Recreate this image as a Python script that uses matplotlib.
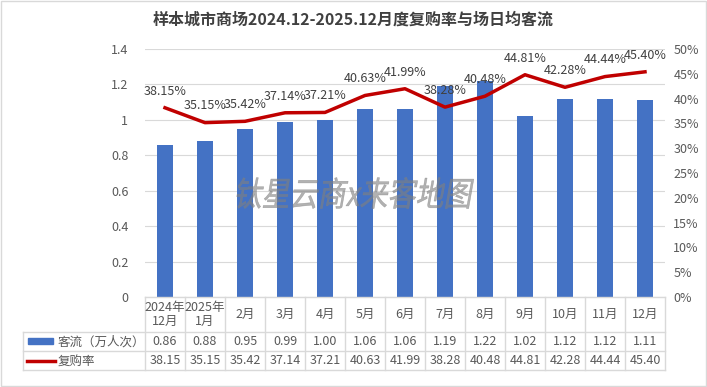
import numpy as np
import matplotlib.pyplot as plt
from matplotlib.lines import Line2D
from matplotlib.patches import Rectangle, PathPatch
from matplotlib.textpath import TextPath
from matplotlib.font_manager import FontProperties
from matplotlib.transforms import Affine2D

plt.rcParams['font.family'] = ['Noto Sans CJK SC', 'DejaVu Sans']

months = ['2024年\n12月', '2025年\n1月', '2月', '3月', '4月', '5月', '6月',
          '7月', '8月', '9月', '10月', '11月', '12月']
flow = [0.86, 0.88, 0.95, 0.99, 1.00, 1.06, 1.06, 1.19, 1.22, 1.02, 1.12, 1.12, 1.11]
rate = [38.15, 35.15, 35.42, 37.14, 37.21, 40.63, 41.99, 38.28, 40.48, 44.81, 42.28, 44.44, 45.40]

bar_c = '#4472C4'
line_c = '#C00000'
txt_c = '#595959'
grid_c = '#D9D9D9'

W, H = 707, 387
fig = plt.figure(figsize=(W / 100, H / 100), dpi=100)
ax = fig.add_axes([145 / W, 1 - 297 / H, 520 / W, 248 / H])
x = np.arange(len(months))

ax.bar(x, flow, width=0.4, color=bar_c, zorder=2)
ax.set_xlim(-0.5, len(months) - 0.5)
ax.set_ylim(0, 1.4)
ax.set_yticks(np.arange(0, 1.41, 0.2))
ax.set_yticklabels(['0', '0.2', '0.4', '0.6', '0.8', '1', '1.2', '1.4'])
ax.yaxis.grid(True, color=grid_c, lw=0.8, zorder=0)
ax.set_xticks([])
for s in ax.spines.values():
    s.set_visible(False)
ax.tick_params(axis='y', length=0, labelsize=9, labelcolor=txt_c, pad=12)

ax2 = ax.twinx()
ax2.plot(x, rate, color=line_c, lw=2.5, zorder=3)
ax2.set_ylim(0, 50)
ax2.set_yticks(np.arange(0, 51, 5))
ax2.set_yticklabels([f'{v}%' for v in range(0, 51, 5)])
ax2.tick_params(axis='y', length=0, labelsize=9, labelcolor=txt_c, pad=6)
for s in ax2.spines.values():
    s.set_visible(False)
for xi, r in zip(x, rate):
    ax2.annotate(f'{r:.2f}%', (xi, r), xytext=(0, 12), textcoords='offset points',
                 ha='center', va='center', fontsize=9, color='#404040')

fig.text(0.5, 1 - 20 / H, '样本城市商场2024.12-2025.12月度复购率与场日均客流',
         ha='center', va='center', fontsize=11.5, fontweight='bold', color='#404040')

# watermark, slanted
tp = TextPath((0, 0), '钛星云商x来客地图', size=28,
              prop=FontProperties(family='Noto Sans CJK SC', weight='medium'))
ext = tp.get_extents()
wm = Affine2D().translate(-(ext.x0 + ext.x1) / 2, -(ext.y0 + ext.y1) / 2) \
    .scale(1, 1.2).skew_deg(10, 0).translate(354, H - 193)
fig.patches.append(PathPatch(tp, transform=wm, facecolor='#808080', edgecolor='#808080',
                             lw=0.4, alpha=0.6, zorder=10))

# data table
tb = ax.get_xaxis_transform()
rows_y = [0, -35 / 248, -54 / 248, -73 / 248]
left_x = (23 - 145) / 520 * len(months) - 0.5
for yy in rows_y[1:]:
    ax.add_line(Line2D([left_x, len(months) - 0.5], [yy, yy], transform=tb,
                       color=grid_c, lw=1, clip_on=False))
ax.add_line(Line2D([-0.5, len(months) - 0.5], [0, 0], transform=tb,
                   color=grid_c, lw=1, clip_on=False))
for xi in np.arange(-0.5, len(months), 1):
    ax.add_line(Line2D([xi, xi], [rows_y[0], rows_y[-1]], transform=tb,
                       color=grid_c, lw=1, clip_on=False))
ax.add_line(Line2D([left_x, left_x], [rows_y[1], rows_y[-1]], transform=tb,
                   color=grid_c, lw=1, clip_on=False))

for xi, m, f, r in zip(x, months, flow, rate):
    ax.text(xi, (rows_y[0] + rows_y[1]) / 2, m, transform=tb, ha='center', va='center',
            fontsize=9, color=txt_c, linespacing=1.05)
    ax.text(xi, (rows_y[1] + rows_y[2]) / 2, f'{f:.2f}', transform=tb, ha='center',
            va='center', fontsize=9, color=txt_c)
    ax.text(xi, (rows_y[2] + rows_y[3]) / 2, f'{r:.2f}', transform=tb, ha='center',
            va='center', fontsize=9, color=txt_c)

fig.patches.append(Rectangle((28 / W, 1 - 344 / H), 25 / W, 6 / H, color=bar_c,
                             transform=fig.transFigure))
fig.lines.append(Line2D([27 / W, 55 / W], [1 - 361 / H, 1 - 361 / H], color=line_c, lw=2.5,
                        transform=fig.transFigure))
fig.text(58 / W, 1 - 342 / H, '客流（万人次）', ha='left', va='center', fontsize=9, color=txt_c)
fig.text(58 / W, 1 - 361 / H, '复购率', ha='left', va='center', fontsize=9, color=txt_c)

fig.patches.append(Rectangle((1 / W, 1 / H), (W - 2) / W, (H - 2) / H, fill=False,
                             edgecolor=grid_c, lw=1, transform=fig.transFigure))

fig.savefig('out.png', dpi=100)
